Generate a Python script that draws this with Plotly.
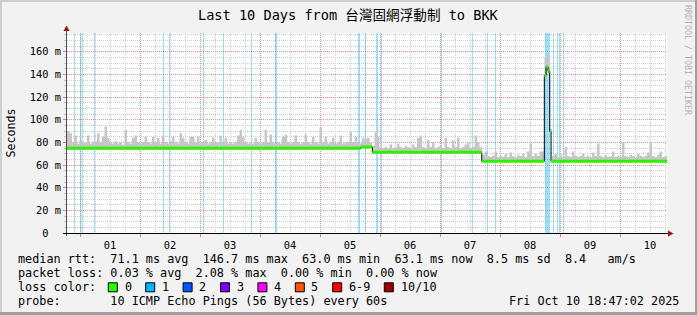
import plotly.graph_objects as go
import pandas as pd

# ---------------- data ----------------
START = "2025-09-30 18:47:02"
END = "2025-10-10 18:47:02"
Y_MAX = 176.5

# hourly smoke top (ms), hour 0 = START
smoke_top = [
    90, 88, 80, 86, 79, 82, 79, 80, 86, 79,
    80, 81, 88, 80, 85, 94, 84, 80, 79, 81,
    79, 80, 78, 91, 80, 79, 84, 86, 80, 79,
    80, 85, 80, 79, 85, 80, 84, 79, 86, 80,
    79, 81, 85, 80, 79, 88, 84, 80, 79, 85,
    85, 80, 85, 79, 80, 82, 79, 80, 84, 80,
    80, 86, 80, 84, 79, 80, 79, 80, 86, 91,
    85, 80, 79, 80, 79, 84, 80, 79, 80, 91,
    80, 87, 80, 79, 80, 79, 85, 87, 80, 79,
    80, 86, 80, 79, 80, 87, 80, 79, 85, 80,
    79, 93, 80, 85, 79, 80, 84, 79, 80, 86,
    79, 80, 80, 89, 80, 85, 80, 79, 84, 82,
    84, 80, 77, 89, 85, 76, 75, 76, 75, 78,
    75, 76, 79, 76, 75, 77, 76, 75, 78, 76,
    84, 86, 76, 75, 82, 76, 80, 75, 76, 77,
    75, 84, 76, 75, 82, 76, 84, 75, 76, 78,
    80, 75, 76, 86, 80, 76, 69, 72, 68, 67,
    68, 72, 67, 68, 67, 70, 67, 71, 68, 67,
    69, 68, 70, 67, 72, 79, 68, 70, 68, 72,
    72, 155, 157, 92, 68, 70, 67, 69, 67, 76,
    68, 67, 72, 68, 67, 68, 70, 67, 68, 67,
    71, 68, 79, 68, 67, 69, 67, 68, 72, 67,
    68, 67, 80, 68, 67, 69, 68, 67, 70, 68,
    67, 68, 71, 80, 68, 67, 69, 72, 67, 68,
]

# median rtt change points (ms)
med_times = ["2025-09-30 18:47:02", "2025-10-05 16:17:00", "2025-10-05 20:55:00",
             "2025-10-07 16:41:00", "2025-10-08 17:43:00", "2025-10-08 18:24:00",
             "2025-10-08 19:12:00", "2025-10-08 19:53:00", "2025-10-08 20:24:00",
             "2025-10-10 18:47:02"]
med_vals = [74.7, 75.9, 71.2, 63.4, 139.0, 146.7, 143.0, 89.6, 63.4, 63.4]

# packet-loss events (start, minutes)
loss_times = ["2025-09-30 21:43", "2025-09-30 23:48", "2025-10-01 00:36", "2025-10-01 05:46",
              "2025-10-02 09:19", "2025-10-02 11:24", "2025-10-03 01:12", "2025-10-03 09:19",
              "2025-10-03 20:31", "2025-10-04 05:55", "2025-10-05 15:07", "2025-10-05 17:48",
              "2025-10-05 22:19", "2025-10-06 00:24", "2025-10-07 00:29", "2025-10-07 12:43",
              "2025-10-07 18:55", "2025-10-07 22:07", "2025-10-08 17:48", "2025-10-08 21:12",
              "2025-10-08 22:48", "2025-10-08 23:36", "2025-10-09 01:19"]
loss_minutes = [24, 24, 24, 24, 24, 24, 24, 24, 24, 48, 48, 24,
                48, 24, 24, 24, 24, 24, 120, 24, 24, 24, 24]

y_tickvals = [0, 20, 40, 60, 80, 100, 120, 140, 160]
y_ticktext = ["0\u00a0\u00a0", "20 m", "40 m", "60 m", "80 m", "100 m", "120 m", "140 m", "160 m"]

loss_labels = ["0", "1", "2", "3", "4", "5", "6-9", "10/10"]
loss_colors = ["#26ff00", "#00b8ff", "#0059ff", "#7e00ff", "#ff00ff", "#ff5500", "#ff0000", "#a10000"]

title_text = "Last 10 Days from 台灣固網浮動制 to BKK"
legend_lines = [
    "median rtt:  71.1 ms avg  146.7 ms max  63.0 ms min  63.1 ms now  8.5 ms sd  8.4   am/s",
    "packet loss: 0.03 % avg  2.08 % max  0.00 % min  0.00 % now",
    "loss color:",
    "probe:       10 ICMP Echo Pings (56 Bytes) every 60s",
]
stamp = "Fri Oct 10 18:47:02 2025"

# ---------------- helpers ----------------
L, T, W, H = 67, 33, 600, 200
def px(x):
    return (x - L) / W
def py(y):
    return (T + H - y) / H

MONO = "DejaVu Sans Mono"

hours = pd.date_range(START, periods=len(smoke_top), freq="1h")
mt = pd.to_datetime(med_times, format="mixed")
def med_at(t):
    idx = mt.searchsorted(t, side="right") - 1
    return med_vals[max(idx, 0)]
centers = hours + pd.Timedelta(minutes=30)
smoke_lo = [med_at(c) - 1.0 for c in centers]
sx = list(hours) + [pd.Timestamp(END)]
s_lo = smoke_lo + [smoke_lo[-1]]
s_hi = smoke_top + [smoke_top[-1]]

fig = go.Figure()

# smoke
fig.add_trace(go.Scatter(x=sx, y=s_lo, mode="lines", line=dict(width=0, shape="hv"),
                         hoverinfo="skip"))
fig.add_trace(go.Scatter(x=sx, y=s_hi, mode="lines", line=dict(width=0, shape="hv"),
                         fill="tonexty", fillcolor="#c6c6c6", hoverinfo="skip"))

# loss bars
fig.add_trace(go.Bar(x=pd.to_datetime(loss_times, format="mixed"), y=[Y_MAX] * len(loss_times), base=0,
                     width=[m * 60000 for m in loss_minutes], offset=0,
                     marker=dict(color="rgba(0,170,240,0.38)", line=dict(width=0))))

# median: black connecting steps, green horizontals
fig.add_trace(go.Scatter(x=mt, y=med_vals, mode="lines",
                         line=dict(color="#000000", width=1, shape="hv")))
gx, gy = [], []
for i in range(len(med_times) - 1):
    gx += [mt[i], mt[i + 1], None]
    gy += [med_vals[i], med_vals[i], None]
fig.add_trace(go.Scatter(x=gx, y=gy, mode="lines", line=dict(color="#2ef000", width=3)))

shapes = []
# axis lines + arrows
shapes.append(dict(type="line", xref="paper", yref="paper", x0=px(66.5), x1=px(66.5),
                   y0=py(236), y1=py(29), line=dict(color="#505050", width=1)))
shapes.append(dict(type="line", xref="paper", yref="paper", x0=px(63), x1=px(669),
                   y0=py(233.5), y1=py(233.5), line=dict(color="#000000", width=1)))
shapes.append(dict(type="path", xref="paper", yref="paper",
                   path=f"M {px(63.5)} {py(31)} L {px(69.5)} {py(31)} L {px(66.5)} {py(25.5)} Z",
                   fillcolor="#a01010", line=dict(width=0)))
shapes.append(dict(type="path", xref="paper", yref="paper",
                   path=f"M {px(668)} {py(230.5)} L {px(668)} {py(236.5)} L {px(673.5)} {py(233.5)} Z",
                   fillcolor="#a01010", line=dict(width=0)))
# frame
shapes.append(dict(type="rect", xref="paper", yref="paper", x0=px(0), x1=px(697), y0=py(0), y1=py(2),
                   fillcolor="#cecece", line=dict(width=0)))
shapes.append(dict(type="rect", xref="paper", yref="paper", x0=px(0), x1=px(2), y0=py(0), y1=py(315),
                   fillcolor="#cecece", line=dict(width=0)))
shapes.append(dict(type="rect", xref="paper", yref="paper", x0=px(0), x1=px(697), y0=py(312), y1=py(315),
                   fillcolor="#9e9e9e", line=dict(width=0)))
shapes.append(dict(type="rect", xref="paper", yref="paper", x0=px(695), x1=px(697), y0=py(0), y1=py(315),
                   fillcolor="#9e9e9e", line=dict(width=0)))

annotations = []
annotations.append(dict(text=title_text, x=px(348), y=py(15), xref="paper", yref="paper",
                        showarrow=False, xanchor="center", yanchor="middle",
                        font=dict(family=MONO + ", Noto Sans CJK TC", size=13.6, color="#000")))
annotations.append(dict(text="Seconds", x=px(10.5), y=py(133), xref="paper", yref="paper",
                        showarrow=False, textangle=-90, xanchor="center", yanchor="middle",
                        font=dict(family=MONO, size=11.6, color="#000")))
annotations.append(dict(text="RRDTOOL / TOBI OETIKER", x=px(688), y=py(60), xref="paper", yref="paper",
                        showarrow=False, textangle=90, xanchor="center", yanchor="middle",
                        font=dict(family=MONO, size=8.3, color="#b4b4b4")))
LEG_Y = [259.3, 273.3, 287.3, 301.0]
for txt, yy in zip(legend_lines, LEG_Y):
    annotations.append(dict(text=txt.replace(" ", "\u00a0"), x=px(16), y=py(yy), xref="paper", yref="paper",
                            showarrow=False, xanchor="left", yanchor="middle",
                            font=dict(family=MONO, size=11.8, color="#000")))
annotations.append(dict(text=stamp.replace(" ", "\u00a0"), x=px(681), y=py(LEG_Y[3]), xref="paper", yref="paper",
                        showarrow=False, xanchor="right", yanchor="middle",
                        font=dict(family=MONO, size=11.8, color="#000")))
CELL = 7.1
pos = 108.3
for lab, col in zip(loss_labels, loss_colors):
    shapes.append(dict(type="rect", xref="paper", yref="paper", x0=px(pos), x1=px(pos + 9),
                       y0=py(LEG_Y[2] - 4.5), y1=py(LEG_Y[2] + 4.5),
                       fillcolor=col, line=dict(color="#000", width=1)))
    tx = pos + 14.2
    annotations.append(dict(text=lab, x=px(tx), y=py(LEG_Y[2]), xref="paper", yref="paper",
                            showarrow=False, xanchor="left", yanchor="middle",
                            font=dict(family=MONO, size=11.8, color="#000")))
    pos = tx + len(lab) * CELL + 16.1

fig.update_layout(
    width=697, height=315,
    margin=dict(l=L, r=697 - L - W, t=T, b=315 - T - H, pad=0),
    paper_bgcolor="#f2f2f2", plot_bgcolor="#ffffff",
    showlegend=False, barmode="overlay", bargap=0,
    shapes=shapes, annotations=annotations,
    xaxis=dict(type="date", range=[START, END], dtick=86400000, tick0="2025-10-01",
               tickformat="%d", ticklabelmode="period", showgrid=True,
               gridcolor="#e59494", griddash="1px,1px", gridwidth=1,
               ticks="outside", ticklen=3, tickcolor="#d08080",
               tickfont=dict(family=MONO, size=10.4, color="#000"),
               minor=dict(dtick=6 * 3600000, showgrid=True, gridcolor="#cfcfcf", griddash="1px,1px"),
               showline=False, zeroline=False, fixedrange=True),
    yaxis=dict(range=[0, Y_MAX], tickvals=y_tickvals, ticktext=y_ticktext,
               showgrid=True, gridcolor="#e59494", griddash="1px,1px", gridwidth=1,
               ticks="outside", ticklen=3, tickcolor="#d08080",
               tickfont=dict(family=MONO, size=10.4, color="#000"),
               minor=dict(dtick=5, showgrid=True, gridcolor="#cfcfcf", griddash="1px,1px",
                          ticks="outside", ticklen=2, tickcolor="#c0c0c0"),
               showline=False, zeroline=False, fixedrange=True),
)

fig.write_html("out.html")
